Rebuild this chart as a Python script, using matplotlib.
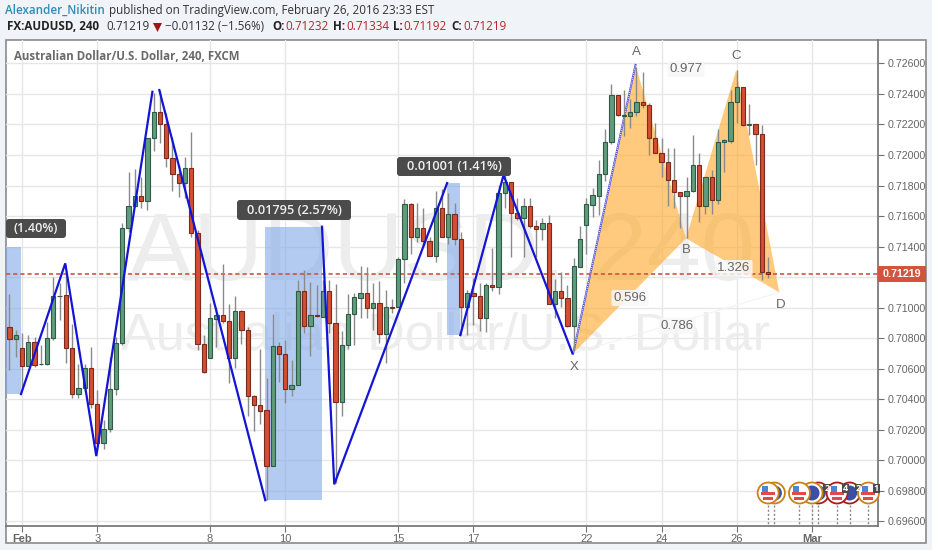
import numpy as np
import matplotlib
matplotlib.use('Agg')
import matplotlib.pyplot as plt
from matplotlib.patches import Rectangle, Circle, Polygon, FancyBboxPatch
from matplotlib.transforms import Affine2D

opens = [.70875, .70792, .70738, .70620, .70773, .70628, .70633, .70803, .71074, .71080,
         .70738, .70434, .70471, .70602, .70369, .70111, .70203, .70465, .70766, .71519,
         .71668, .71729, .71698, .72109, .72279, .72200, .71978, .71873, .71818, .71912,
         .71487, .70762, .70668, .70927, .70950, .70910, .70668, .70978, .70851, .70421,
         .70364, .70327, .69965, .70749, .70694, .70469, .70493, .71107, .70882, .70950,
         .70941, .71107, .70899, .70384, .70755, .70956, .71065, .71094, .71000, .71028,
         .70825, .71004, .71006, .71316, .71676, .71460, .71519, .71436, .71340, .71650,
         .71465, .71611, .71452, .71006, .71094, .71076, .70934, .71150, .71135, .71749,
         .71820, .71622, .71589, .71665, .71537, .71517, .71554, .71026, .71109, .71061,
         .70882, .71268, .71541, .71672, .71733, .71873, .72087, .72390, .72257, .72255,
         .72279, .72349, .72329, .72109, .72013, .71951, .71838, .71759, .71729, .71764,
         .71934, .71668, .71853, .71703, .72082, .72091, .72347, .72445, .72196, .72202,
         .72135, .71232]
highs = [.71089, .70853, .70832, .70821, .70810, .70755, .70908, .71203, .71159, .71246,
         .70890, .70631, .70631, .70740, .70460, .70264, .70679, .70810, .71552, .71886,
         .71906, .71858, .72109, .72403, .72425, .72272, .72120, .71934, .71989, .72148,
         .71508, .70821, .71028, .71006, .71283, .71024, .71076, .70985, .70871, .70428,
         .70727, .70541, .70958, .70777, .70788, .70657, .71181, .71246, .71166, .71148,
         .71181, .71181, .71155, .70849, .71089, .71094, .71275, .71268, .71159, .71174,
         .71115, .71056, .71334, .71711, .71683, .71683, .71650, .71465, .71766, .71775,
         .71748, .71683, .71497, .71115, .71192, .71159, .71159, .71388, .71803, .71869,
         .71820, .71716, .71716, .71716, .71574, .71585, .71607, .71185, .71235, .71148,
         .71323, .71535, .71716, .71781, .71967, .72170, .72464, .72390, .72425, .72364,
         .72578, .72545, .72338, .72207, .72109, .72043, .72043, .71759, .71858, .72130,
         .72010, .71858, .71901, .72168, .72104, .72425, .72556, .72445, .72331, .72202,
         .72196, .71334]
lows = [.70591, .70674, .70471, .70615, .70613, .70625, .70625, .70788, .70919, .70639,
        .70406, .70406, .70449, .70340, .70100, .70072, .70188, .70428, .70755, .71497,
        .71661, .71650, .71639, .72028, .72076, .71923, .71764, .71722, .71716, .71465,
        .70722, .70574, .70668, .70744, .70901, .70508, .70607, .70762, .70290, .70194,
        .70238, .69740, .69965, .70515, .70373, .70421, .70493, .70832, .70683, .70941,
        .70941, .70832, .69849, .70290, .70727, .70755, .70930, .70930, .70853, .70766,
        .70635, .70963, .71006, .71159, .71351, .71432, .71399, .71338, .71297, .71460,
        .71414, .71410, .70821, .70821, .70886, .70847, .70842, .71111, .71087, .71650,
        .71334, .71574, .71334, .71519, .71334, .71443, .71024, .70930, .71006, .70875,
        .70722, .71268, .71351, .71591, .71607, .71831, .72070, .72255, .72124, .72174,
        .72257, .72305, .72000, .72010, .71858, .71665, .71650, .71519, .71454, .71759,
        .71563, .71613, .71613, .71676, .71890, .72076, .72211, .72192, .72130, .71934,
        .71181, .71192]
closes = [.70792, .70821, .70620, .70773, .70624, .70633, .70803, .71074, .71078, .70738,
          .70434, .70471, .70602, .70369, .70116, .70203, .70465, .70766, .71519, .71668,
          .71729, .71698, .72109, .72279, .72200, .71978, .71873, .71818, .71912, .71487,
          .70762, .70578, .70930, .70950, .70910, .70668, .70978, .70851, .70421, .70364,
          .70323, .69965, .70749, .70694, .70469, .70495, .71107, .70882, .70950, .70943,
          .71107, .70899, .70384, .70755, .70956, .71072, .71094, .71000, .71028, .70825,
          .71002, .70997, .71316, .71676, .71460, .71519, .71436, .71340, .71650, .71465,
          .71611, .71447, .71006, .71094, .71074, .70934, .71150, .71135, .71753, .71820,
          .71617, .71589, .71665, .71534, .71517, .71554, .71026, .71109, .71061, .70882,
          .71270, .71447, .71676, .71737, .71873, .72087, .72390, .72261, .72261, .72281,
          .72349, .72329, .72109, .72013, .71951, .71836, .71759, .71729, .71766, .71934,
          .71668, .71853, .71703, .72082, .72096, .72349, .72445, .72194, .72202, .72135,
          .71232, .71219]

price_ticks = [.696, .698, .700, .702, .704, .706, .708, .710, .712, .714, .716, .718, .720, .722, .724, .726]
time_ticks = [2, 14, 32, 44, 62, 74, 92, 104, 116, 128]
time_labels = ['Feb', '3', '8', '10', '15', '17', '22', '24', '26', 'Mar']
last_price = 0.71219

# zigzag drawings: bar position, price
zig_a = [(1.84, .70434), (8.9, .7129), (13.85, .70028), (22.8, .72414)]
zig_b = [(23.9, .72425), (40.8, .69739)]
zig_c = [(49.85, .7153), (51.8, .69843), (69.8, .71816)]
zig_d = [(71.9, .7082), (78.8, .71868), (89.8, .7070)]

# measure boxes: left bar, right bar, low, high
boxes = [(-0.55, 1.84, .70434, .71400), (40.8, 49.85, .69739, .7153), (69.8, 71.9, .7082, .71816)]

pt_x = (89.9, .7070)
pt_a = (99.85, .7259)
pt_b = (107.9, .71454)
pt_c = (115.9, .72556)
pt_d = (122.8, .7110)

event_bars = [122, 121, 129, 128, 126, 134, 132, 137]
event_kind = ['globe', 'us', 'globe', 'globe', 'us', 'globe', 'us', 'us']
event_edge = ['#c9821a', '#c9821a', '#a81c1c', '#c9821a', '#c9821a', '#a81c1c', '#a81c1c', '#c9821a']
event_count = ['', '', '2', '', '', '2', '4', '1']

W, H = 932, 550
X0, DX = 9.46, 6.27

fig = plt.figure(figsize=(W / 100, H / 100), dpi=100, facecolor='#f0f3f7')
px = Affine2D().scale(1 / W, -1 / H).translate(0, 1) + fig.transFigure
plt.rcParams['font.family'] = ['Open Sans', 'DejaVu Sans']

# outer white panel
fig.add_artist(Rectangle((6, 40), 920, 503, transform=px, fc='white', ec='#8a8a8a', lw=1.2, zorder=-5))

ax = fig.add_axes([6 / W, (H - 526) / H, 872 / W, 486 / H])
ax.set_xlim((6 - X0) / DX, (878 - X0) / DX)
ax.set_ylim(.69570, .72753)
ax.patch.set_alpha(0)
ax.set_axisbelow(True)
ax.grid(True, color='#e6e6e6', lw=1)
for s in ['top', 'left']:
    ax.spines[s].set_visible(False)
for s in ['bottom', 'right']:
    ax.spines[s].set_color('#707070')
    ax.spines[s].set_linewidth(1.2)

ax.yaxis.tick_right()
ax.set_yticks(price_ticks)
ax.set_yticklabels(['%.5f' % p for p in price_ticks], family='Liberation Sans', fontsize=7.7, color='#666666')
ax.set_xticks(time_ticks)
ax.set_xticklabels(time_labels, family='Liberation Sans', fontsize=8, color='#666666')
ax.get_xticklabels()[0].set_fontweight('bold')
ax.get_xticklabels()[-1].set_fontweight('bold')
ax.tick_params(axis='y', length=4, color='#707070', pad=3)
ax.tick_params(axis='x', length=4, color='#707070', pad=1.5)

# watermark sits under the drawings
ax.text(441, 255, 'AUDUSD, 240', transform=px, family='Liberation Sans', fontsize=70, color='#ededed',
        ha='center', va='center', zorder=1, clip_on=False)
ax.text(445, 336, 'Australian Dollar/U.S. Dollar', transform=px, family='Liberation Sans', fontsize=37.5,
        color='#ededed', ha='center', va='center', zorder=1, clip_on=False)

for b in boxes:
    ax.add_patch(Rectangle((b[0], b[2]), b[1] - b[0], b[3] - b[2], fc='#7ea6e8', alpha=0.58, lw=0, zorder=2))

ax.add_patch(Polygon([pt_x, pt_a, pt_b], fc='#ffa726', alpha=0.6, lw=0, zorder=2))
ax.add_patch(Polygon([pt_b, pt_c, pt_d], fc='#ffa726', alpha=0.6, lw=0, zorder=2))
ax.plot([pt_x[0], pt_a[0]], [pt_x[1], pt_a[1]], color='#4a4ae0', lw=1.4, zorder=2.5)
ax.plot([pt_x[0], pt_a[0]], [pt_x[1], pt_a[1]], color='white', lw=0.7, ls=(0, (1, 1)), zorder=2.6)
ax.plot([pt_x[0], pt_d[0]], [pt_x[1], pt_d[1]], color='#f3f3f3', lw=0.8, zorder=2)

ax.axhline(last_price, color='#d2543f', lw=1.2, ls=(0, (2.5, 1.8)), zorder=2.8)

# candles
bars = np.arange(len(opens))
opens = np.array(opens)
closes = np.array(closes)
up = closes >= opens
ax.vlines(bars, lows, highs, color='#8a8a8a', lw=1, zorder=3)
ax.bar(bars[up], closes[up] - opens[up], bottom=opens[up], width=0.68, color='#5f9c7c', edgecolor='#2f5a46', lw=0.8, zorder=4)
ax.bar(bars[~up], opens[~up] - closes[~up], bottom=closes[~up], width=0.68, color='#d24f33', edgecolor='#7e2a1b', lw=0.8, zorder=4)

for zig in [zig_a, zig_b, zig_c, zig_d]:
    ax.plot([p[0] for p in zig], [p[1] for p in zig], color='#1414d6', lw=1.6, zorder=5, solid_joinstyle='miter')

# pattern labels
for t, x, y in [('A', 636, 52), ('B', 686, 250), ('C', 736, 56), ('D', 781, 305), ('X', 574, 367)]:
    fig.text(x / W, 1 - y / H, t, family='Liberation Sans', fontsize=9.5, color='#666666', ha='center', va='center', zorder=6)
for t, x, y in [('0.977', 686, 69), ('0.596', 630, 298), ('0.786', 677, 326), ('1.326', 734, 268)]:
    fig.text(x / W, 1 - y / H, t, family='Liberation Sans', fontsize=9.5, color='#666666', ha='center', va='center', zorder=6,
             bbox=dict(boxstyle='round,pad=0.15', fc='#f7f7f7', ec='none', alpha=0.85))

# measure labels
for t, x0, x1, y0, y1 in [('(1.40%)', 6, 66, 219, 238), ('0.01795 (2.57%)', 237, 351, 200, 220),
                          ('0.01001 (1.41%)', 397, 511, 157, 176)]:
    fig.add_artist(FancyBboxPatch((x0, y0), x1 - x0, y1 - y0, boxstyle='round,pad=0,rounding_size=3', transform=px,
                                  fc='#4b4b4b', ec='none', zorder=7))
    fig.text((x0 + x1) / 2 / W, 1 - (y0 + y1) / 2 / H, t, fontsize=9.2, color='#efefef', fontweight='semibold',
             ha='center', va='center', zorder=8)

# events along the bottom
for b, kind, edge, n in zip(event_bars, event_kind, event_edge, event_count):
    cx = X0 + DX * b
    fig.add_artist(plt.Line2D([cx, cx], [505, 526], transform=px, color='#888888', lw=1, ls=(0, (1.5, 1.5)), zorder=9))
    fig.add_artist(Circle((cx, 493), 10.5, transform=px, fc='white', ec=edge, lw=1.3, zorder=9))
    if kind == 'us':
        fig.add_artist(Rectangle((cx - 7, 492), 14, 2.5, transform=px, fc='#e24a4a', ec='none', zorder=9))
        fig.add_artist(Rectangle((cx - 5, 497), 10, 2.5, transform=px, fc='#e24a4a', ec='none', zorder=9))
        fig.add_artist(Rectangle((cx - 6, 486), 6, 6, transform=px, fc='#4a86d8', ec='none', zorder=9))
    else:
        fig.add_artist(Circle((cx, 493), 7.5, transform=px, fc='#3c4fa8', ec='none', zorder=9))
    if n:
        ex = min(cx + 5, 873)
        fig.add_artist(Rectangle((ex, 484), 7, 9, transform=px, fc='#4b4b4b', ec='none', zorder=9))
        fig.text((ex + 3.5) / W, 1 - 488.5 / H, n, fontsize=6.5, color='white', fontweight='bold',
                 ha='center', va='center', zorder=10)

# last price label
fig.add_artist(Rectangle((878, 266), 48, 16, transform=px, fc='#d2543f', ec='none', zorder=7))
fig.text(902 / W, 1 - 274 / H, '%.5f' % last_price, family='Liberation Sans', fontsize=7.7, fontweight='bold',
         color='white', ha='center', va='center', zorder=8)

# header
def head(x, y, t, **kw):
    kw.setdefault('color', '#333333')
    kw.setdefault('fontsize', 8.4)
    fig.text(x / W, 1 - y / H, t, ha='left', va='center', **kw)

head(5, 10.5, 'Alexander_Nikitin', color='#2b8cb8', fontweight='semibold')
head(109, 10.5, 'published on TradingView.com, February 26, 2016 23:33 EST')
head(7, 27, 'FX:AUDUSD, 240', fontweight='bold', color='#222222')
head(106, 27, '0.71219')
fig.add_artist(Polygon([(153, 23), (162, 23), (157.5, 32)], transform=px, fc='#a31515', ec='none'))
head(165, 27, '\u22120.01132 (\u22121.56%)')
for lab, lx, val, vx in [('O:', 272, '0.71232', 285), ('H:', 333, '0.71334', 346),
                         ('L:', 393, '0.71192', 403), ('C:', 451, '0.71219', 463)]:
    head(lx, 27, lab, fontweight='bold', color='#222222')
    head(vx, 27, val, color='#b5262a')

head(14, 56, 'Australian Dollar/U.S. Dollar, 240, FXCM', color='#6a6a6a', fontweight='bold', fontsize=8.3)

plt.savefig('out.png', dpi=100, facecolor=fig.get_facecolor())
